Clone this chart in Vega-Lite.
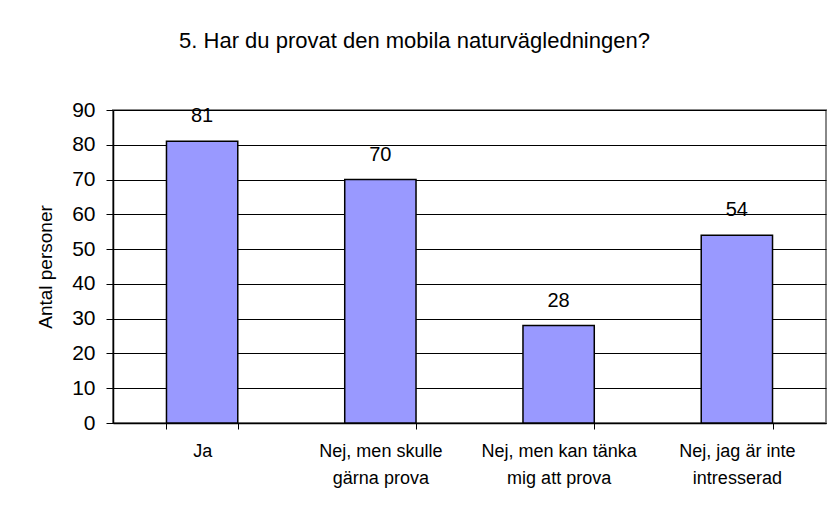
{
  "$schema": "https://vega.github.io/schema/vega-lite/v6.json",
  "width": 713,
  "height": 313,
  "autosize": "none",
  "padding": {"left": 113, "top": 110, "right": 4, "bottom": 90},
  "background": "white",
  "title": {
    "text": "5. Har du provat den mobila naturvägledningen?",
    "font": "Liberation Sans",
    "fontSize": 22,
    "fontWeight": "normal",
    "color": "#000",
    "anchor": "middle",
    "dx": -55,
    "baseline": "alphabetic",
    "offset": 29
  },
  "data": {
    "values": [
      {"svar": "Ja", "antal": 81},
      {"svar": "Nej, men skulle\ngärna prova", "antal": 70},
      {"svar": "Nej, men kan tänka\nmig att prova", "antal": 28},
      {"svar": "Nej, jag är inte\nintresserad", "antal": 54}
    ]
  },
  "encoding": {
    "x": {
      "field": "svar",
      "type": "nominal",
      "sort": null,
      "scale": {"paddingInner": 0.6, "paddingOuter": 0.3},
      "axis": {
        "title": null,
        "labelAngle": 0,
        "labelExpr": "split(datum.label, '\\n')",
        "labelFont": "Liberation Sans",
        "labelFontSize": 18,
        "labelColor": "#000",
        "labelLineHeight": 27,
        "labelPadding": 13,
        "labelLimit": 300,
        "tickBand": "extent",
        "tickSize": 6,
        "tickColor": "#000",
        "domainColor": "#000",
        "domainWidth": 1.5
      }
    },
    "y": {
      "field": "antal",
      "type": "quantitative",
      "scale": {"domain": [0, 90], "nice": false},
      "axis": {
        "title": "Antal personer",
        "titleFont": "Liberation Sans",
        "titleFontSize": 19,
        "titleFontWeight": "normal",
        "titleColor": "#000",
        "titlePadding": 16,
        "values": [0, 10, 20, 30, 40, 50, 60, 70, 80, 90],
        "labelFont": "Liberation Sans",
        "labelFontSize": 21,
        "labelColor": "#000",
        "labelPadding": 11,
        "tickSize": 7,
        "tickColor": "#000",
        "domainColor": "#000",
        "domainWidth": 1.5,
        "grid": true,
        "gridColor": "#000",
        "gridWidth": 1
      }
    }
  },
  "layer": [
    {
      "mark": {"type": "bar", "fill": "#9999FF", "stroke": "#000", "strokeWidth": 1.5}
    },
    {
      "mark": {"type": "text", "baseline": "alphabetic", "dy": -19, "font": "Liberation Sans", "fontSize": 20, "color": "#000"},
      "encoding": {"text": {"field": "antal", "type": "quantitative"}}
    }
  ],
  "config": {
    "view": {"stroke": "#888", "strokeWidth": 2}
  }
}
